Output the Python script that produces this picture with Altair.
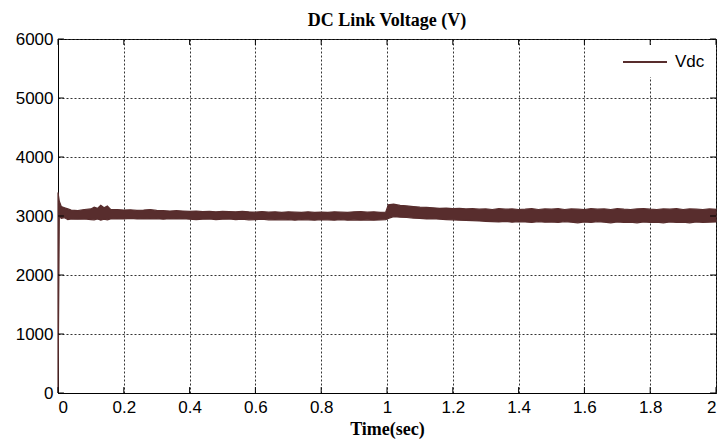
import altair as alt
import pandas as pd

# Envelope of the simulated DC-link voltage (V) over time (s)
t = [0.000, 0.004, 0.010, 0.020, 0.030, 0.040, 0.060, 0.080, 0.100, 0.110,
     0.120, 0.130, 0.140, 0.150, 0.160, 0.180, 0.200, 0.220, 0.240, 0.260,
     0.280, 0.300, 0.320, 0.340, 0.360, 0.380, 0.400, 0.420, 0.440, 0.460,
     0.480, 0.500, 0.520, 0.540, 0.560, 0.580, 0.600, 0.620, 0.640, 0.660,
     0.680, 0.700, 0.720, 0.740, 0.760, 0.780, 0.800, 0.820, 0.840, 0.860,
     0.880, 0.900, 0.920, 0.940, 0.960, 0.980, 0.996, 1.004, 1.020, 1.040,
     1.060, 1.080, 1.100, 1.120, 1.140, 1.160, 1.180, 1.200, 1.220, 1.240,
     1.260, 1.280, 1.300, 1.320, 1.340, 1.360, 1.380, 1.400, 1.420, 1.440,
     1.460, 1.480, 1.500, 1.520, 1.540, 1.560, 1.580, 1.600, 1.620, 1.640,
     1.660, 1.680, 1.700, 1.720, 1.740, 1.760, 1.780, 1.800, 1.820, 1.840,
     1.860, 1.880, 1.900, 1.920, 1.940, 1.960, 1.980, 2.000]

vdc_upper = [3400, 3250, 3160, 3140, 3120, 3100, 3090, 3110, 3120, 3150,
             3130, 3180, 3140, 3170, 3110, 3110, 3100, 3105, 3095, 3100,
             3110, 3095, 3090, 3085, 3090, 3085, 3080, 3085, 3075, 3080,
             3070, 3080, 3075, 3070, 3080, 3070, 3065, 3075, 3065, 3070,
             3060, 3070, 3065, 3060, 3070, 3060, 3065, 3060, 3070, 3065,
             3060, 3070, 3075, 3065, 3070, 3060, 3065, 3190, 3200, 3180,
             3170, 3160, 3150, 3145, 3140, 3130, 3135, 3125, 3130, 3120,
             3125, 3115, 3120, 3110, 3125, 3115, 3120, 3110, 3115, 3125,
             3110, 3120, 3115, 3125, 3110, 3120, 3115, 3110, 3125, 3115,
             3120, 3110, 3125, 3115, 3110, 3120, 3125, 3115, 3110, 3120,
             3115, 3125, 3110, 3120, 3115, 3110, 3120, 3115]

vdc_lower = [0, 2990, 2960, 2970, 2940, 2950, 2945, 2950, 2940, 2935,
             2950, 2930, 2945, 2935, 2950, 2955, 2950, 2960, 2950, 2955,
             2950, 2955, 2945, 2955, 2950, 2955, 2945, 2940, 2945, 2950,
             2940, 2945, 2950, 2940, 2945, 2935, 2940, 2945, 2935, 2940,
             2935, 2940, 2930, 2940, 2935, 2930, 2940, 2935, 2930, 2940,
             2930, 2935, 2930, 2935, 2930, 2935, 2940, 2960, 2990, 2980,
             2975, 2965, 2960, 2950, 2955, 2945, 2940, 2935, 2930, 2925,
             2920, 2915, 2910, 2905, 2900, 2910, 2895, 2905, 2900, 2890,
             2905, 2895, 2900, 2890, 2905, 2895, 2885, 2900, 2890, 2905,
             2895, 2885, 2900, 2890, 2895, 2885, 2900, 2890, 2895, 2885,
             2900, 2890, 2895, 2885, 2900, 2890, 2895, 2900]

x_ticks = [0, 0.2, 0.4, 0.6, 0.8, 1.0, 1.2, 1.4, 1.6, 1.8, 2.0]
y_ticks = [0, 1000, 2000, 3000, 4000, 5000, 6000]

LINE = "#582d2d"
SANS = "Liberation Sans"
SERIF = "Liberation Serif"

df = pd.DataFrame({"t": t, "hi": vdc_upper, "lo": vdc_lower})

x_scale = alt.Scale(domain=[0, 2], nice=False, zero=False)
y_scale = alt.Scale(domain=[0, 6000], nice=False)

band = alt.Chart(df).mark_area(
    color=LINE, stroke=LINE, strokeWidth=1.2, opacity=1
).encode(
    x=alt.X("t:Q", scale=x_scale,
            axis=alt.Axis(values=x_ticks, format="~g", title="Time(sec)",
                          labelPadding=6, titlePadding=5)),
    y=alt.Y("hi:Q", scale=y_scale,
            axis=alt.Axis(values=y_ticks, format="d", title=None,
                          labelPadding=5)),
    y2="lo:Q",
)

# Inward tick marks on all four sides of the frame
xt = pd.DataFrame({"x": x_ticks})
yt = pd.DataFrame({"y": y_ticks})
tick_style = dict(color="black", strokeWidth=1)
bottom_ticks = alt.Chart(xt).mark_rule(**tick_style).encode(
    x=alt.X("x:Q", scale=x_scale), y=alt.datum(0), y2=alt.datum(100))
top_ticks = alt.Chart(xt).mark_rule(**tick_style).encode(
    x=alt.X("x:Q", scale=x_scale), y=alt.datum(5900), y2=alt.datum(6000))
left_ticks = alt.Chart(yt).mark_rule(**tick_style).encode(
    y=alt.Y("y:Q", scale=y_scale), x=alt.datum(0), x2=alt.datum(0.018))
right_ticks = alt.Chart(yt).mark_rule(**tick_style).encode(
    y=alt.Y("y:Q", scale=y_scale), x=alt.datum(1.982), x2=alt.datum(2.0))

# Legend box in the upper-right corner
leg = pd.DataFrame({"label": ["Vdc"]})
leg_bg = alt.Chart(leg).mark_rect(color="white").encode(
    x=alt.value(552), x2=alt.value(656), y=alt.value(6), y2=alt.value(38))
leg_line = alt.Chart(leg).mark_rule(color=LINE, strokeWidth=2).encode(
    x=alt.value(565), x2=alt.value(609), y=alt.value(23))
leg_text = alt.Chart(leg).mark_text(
    font=SANS, fontSize=17, align="left", baseline="middle", color="black"
).encode(x=alt.value(617), y=alt.value(23), text="label:N")

chart = alt.layer(
    band, bottom_ticks, top_ticks, left_ticks, right_ticks,
    leg_bg, leg_line, leg_text
).properties(
    width=658,
    height=354,
    background="white",
    title=alt.TitleParams("DC Link Voltage (V)", font=SERIF, fontSize=18,
                          fontWeight="bold", anchor="middle", offset=0,
                          color="black"),
    autosize=alt.AutoSizeParams(type="none"),
    padding={"left": 58, "top": 39, "right": 4, "bottom": 50},
).configure_view(
    stroke="black", strokeWidth=1
).configure_axis(
    grid=True, gridColor="#333333", gridDash=[2, 2], gridWidth=1, gridOpacity=1,
    domainColor="black", domainWidth=1, ticks=False,
    labelFont=SANS, labelFontSize=17, labelColor="black",
    titleFont=SERIF, titleFontSize=18, titleFontWeight="bold", titleColor="black",
)

chart.save("out.html", embed_options={"renderer": "svg", "actions": False})
